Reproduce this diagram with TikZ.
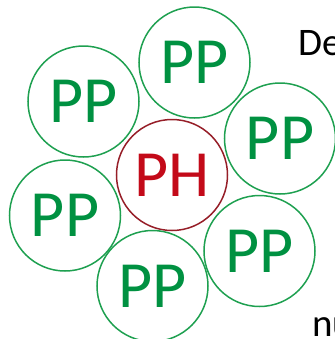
\documentclass[tikz,border=0pt]{standalone}
\usepackage{fontspec}
\setmainfont{Carlito}
\definecolor{ppgreen}{RGB}{0,145,65}
\definecolor{ppline}{RGB}{30,160,80}
\definecolor{phred}{RGB}{195,10,25}
\definecolor{phline}{RGB}{150,30,40}
\begin{document}
\begin{tikzpicture}[x=1bp,y=-1bp,
  pp/.style={circle,draw=ppline,line width=1.5bp,minimum size=111bp,inner sep=0pt,
    text=ppgreen,font=\fontsize{66bp}{66bp}\selectfont},
  ph/.style={pp,draw=phline,text=phred},
  side/.style={anchor=base west,inner sep=0pt,font=\fontsize{39bp}{39bp}\selectfont}]
\useasboundingbox (0,0) rectangle (335,339);
\clip (0,0) rectangle (335,339);
\node[pp] (top) at (194.5,62.5) {PP};
\node[pp] (ul) at (83.5,101.5) {PP};
\node[pp] (r) at (280,138.5) {PP};
\node[ph] (ph) at (172,175) {PH};
\node[pp] (l) at (65,215.5) {PP};
\node[pp] (lr) at (259.5,251) {PP};
\node[pp] (b) at (152.5,286) {PP};
\node[side] (de) at (298,55) {De};
\node[side] (nu) at (312,336) {nu};
\end{tikzpicture}
\end{document}
